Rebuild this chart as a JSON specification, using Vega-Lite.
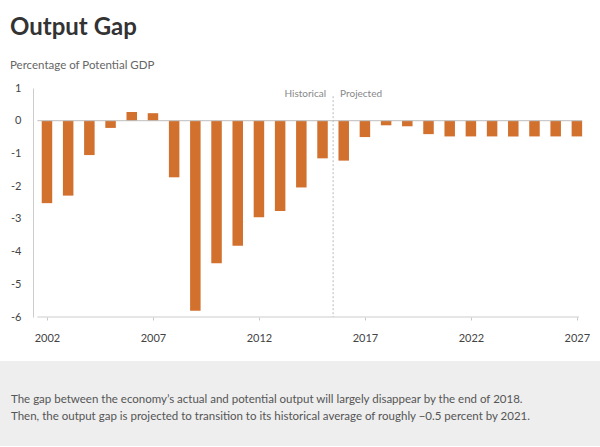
{
  "$schema": "https://vega.github.io/schema/vega-lite/v6.json",
  "padding": {"top": 15, "left": 0, "right": 0, "bottom": 0},
  "background": "white",
  "config": {"view": {"stroke": null}, "font": "Lato"},
  "spacing": 18,
  "vconcat": [
    {
      "width": 584,
      "height": 229,
      "title": {
        "text": "Output Gap",
        "subtitle": "Percentage of Potential GDP",
        "anchor": "start",
        "frame": "bounds",
        "dx": 10,
        "font": "Lato",
        "fontSize": 24,
        "fontWeight": "bold",
        "color": "#333333",
        "subtitleFont": "Lato",
        "subtitleFontSize": 11.5,
        "subtitleColor": "#666666",
        "subtitlePadding": 20,
        "offset": 11
      },
      "data": {
        "values": [
          {"year": 2002, "gap": -2.52},
          {"year": 2003, "gap": -2.29},
          {"year": 2004, "gap": -1.05},
          {"year": 2005, "gap": -0.22},
          {"year": 2006, "gap": 0.27},
          {"year": 2007, "gap": 0.23},
          {"year": 2008, "gap": -1.73},
          {"year": 2009, "gap": -5.81},
          {"year": 2010, "gap": -4.36},
          {"year": 2011, "gap": -3.82},
          {"year": 2012, "gap": -2.95},
          {"year": 2013, "gap": -2.76},
          {"year": 2014, "gap": -2.04},
          {"year": 2015, "gap": -1.15},
          {"year": 2016, "gap": -1.22},
          {"year": 2017, "gap": -0.5},
          {"year": 2018, "gap": -0.14},
          {"year": 2019, "gap": -0.17},
          {"year": 2020, "gap": -0.41},
          {"year": 2021, "gap": -0.48},
          {"year": 2022, "gap": -0.48},
          {"year": 2023, "gap": -0.48},
          {"year": 2024, "gap": -0.48},
          {"year": 2025, "gap": -0.48},
          {"year": 2026, "gap": -0.48},
          {"year": 2027, "gap": -0.48}
        ]
      },
      "layer": [
        {
          "mark": {"type": "bar", "orient": "vertical", "width": 10.5, "color": "#d2702e"},
          "encoding": {
            "x": {
              "field": "year",
              "type": "quantitative",
              "scale": {"domain": [2000.02, 2027.1], "nice": false, "zero": false},
              "axis": {
                "title": null,
                "values": [2002, 2007, 2012, 2017, 2022, 2027],
                "tickCount": 30,
                "format": "d",
                "grid": false,
                "domain": false,
                "labelFont": "Lato",
                "labelFontSize": 11,
                "labelColor": "#444444",
                "labelPadding": 12,
                "tickSize": 3,
                "tickColor": "#c8c8c8",
                "labelFlush": false,
                "labelOverlap": false
              }
            },
            "y": {
              "field": "gap",
              "type": "quantitative",
              "scale": {"domain": [-6, 1], "nice": false},
              "axis": {
                "title": null,
                "values": [-6, -5, -4, -3, -2, -1, 0, 1],
                "tickCount": 10,
                "format": "d",
                "labelExpr": "replace(datum.label, '−', '-')",
                "grid": false,
                "ticks": false,
                "tickSize": 0,
                "offset": -33,
                "labelFont": "Lato",
                "labelFontSize": 11,
                "labelColor": "#444444",
                "labelPadding": 12,
                "labelOverlap": false,
                "labelFlush": false,
                "domainColor": "#cccccc"
              }
            }
          }
        },
        {
          "data": {"values": [{"from": 2001.55, "to": 2027.25, "level": 0}]},
          "mark": {"type": "rule", "color": "#bdbdbd", "strokeWidth": 1},
          "encoding": {
            "x": {"field": "from", "type": "quantitative"},
            "x2": {"field": "to"},
            "y": {"field": "level", "type": "quantitative"}
          }
        },
        {
          "data": {"values": [{"from": 2001.55, "to": 2027.1, "level": -6}]},
          "mark": {"type": "rule", "color": "#cccccc", "strokeWidth": 1},
          "encoding": {
            "x": {"field": "from", "type": "quantitative"},
            "x2": {"field": "to"},
            "y": {"field": "level", "type": "quantitative"}
          }
        },
        {
          "data": {"values": [{"boundary": 2015.5, "top": 0.75, "bottom": -6}]},
          "mark": {"type": "rule", "color": "#bbbbbb", "strokeDash": [2, 2], "strokeWidth": 1},
          "encoding": {
            "x": {"field": "boundary", "type": "quantitative"},
            "y": {"field": "top", "type": "quantitative"},
            "y2": {"field": "bottom"}
          }
        },
        {
          "data": {"values": [{"boundary": 2015.5, "pos": 0.82, "label": "Historical"}]},
          "mark": {"type": "text", "align": "right", "baseline": "middle", "dx": -7, "fontSize": 10, "color": "#888888", "font": "Lato"},
          "encoding": {
            "x": {"field": "boundary", "type": "quantitative"},
            "y": {"field": "pos", "type": "quantitative"},
            "text": {"field": "label"}
          }
        },
        {
          "data": {"values": [{"boundary": 2015.5, "pos": 0.82, "label": "Projected"}]},
          "mark": {"type": "text", "align": "left", "baseline": "middle", "dx": 7, "fontSize": 10, "color": "#888888", "font": "Lato"},
          "encoding": {
            "x": {"field": "boundary", "type": "quantitative"},
            "y": {"field": "pos", "type": "quantitative"},
            "text": {"field": "label"}
          }
        }
      ]
    },
    {
      "width": 600,
      "height": 85,
      "view": {"fill": "#eeeeee", "stroke": null},
      "data": {
        "values": [
          {"line": 1, "note": "The gap between the economy’s actual and potential output will largely disappear by the end of 2018."},
          {"line": 2, "note": "Then, the output gap is projected to transition to its historical average of roughly −0.5 percent by 2021."}
        ]
      },
      "mark": {"type": "text", "align": "left", "baseline": "middle", "fontSize": 11.5, "color": "#555555", "font": "Lato"},
      "encoding": {
        "x": {"value": 11},
        "y": {"field": "line", "type": "ordinal", "axis": null, "scale": {"range": [39, 56], "padding": 0}},
        "text": {"field": "note"}
      }
    }
  ]
}
